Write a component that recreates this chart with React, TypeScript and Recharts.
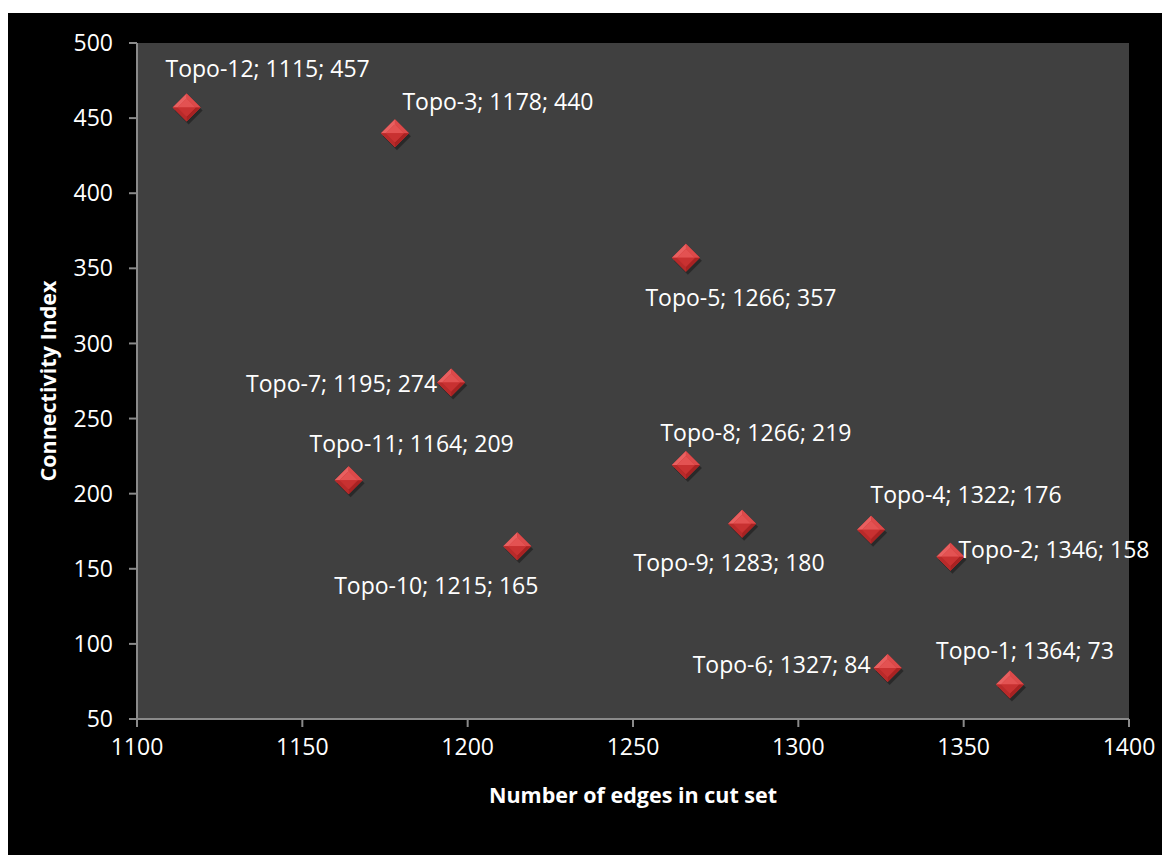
import { CartesianGrid, Scatter, ScatterChart, XAxis, YAxis } from "recharts";

const topoNames = [
  "Topo-1", "Topo-2", "Topo-3", "Topo-4", "Topo-5", "Topo-6",
  "Topo-7", "Topo-8", "Topo-9", "Topo-10", "Topo-11", "Topo-12",
];
const edgesInCutSet = [1364, 1346, 1178, 1322, 1266, 1327, 1195, 1266, 1283, 1215, 1164, 1115];
const connectivityIndex = [73, 158, 440, 176, 357, 84, 274, 219, 180, 165, 209, 457];

const xTicks = [1100, 1150, 1200, 1250, 1300, 1350, 1400];
const yTicks = [50, 100, 150, 200, 250, 300, 350, 400, 450, 500];

// where each data label sits relative to its marker (Excel labels were hand-moved)
const labelNudge: { anchor: "start" | "middle" | "end"; dx: number; dy: number }[] = [
  { anchor: "middle", dx: 15, dy: -34 },
  { anchor: "start", dx: 8, dy: -8 },
  { anchor: "middle", dx: 103, dy: -32 },
  { anchor: "middle", dx: 95, dy: -36 },
  { anchor: "middle", dx: 55, dy: 39 },
  { anchor: "end", dx: -17, dy: -4 },
  { anchor: "end", dx: -14, dy: 0 },
  { anchor: "middle", dx: 70, dy: -33 },
  { anchor: "middle", dx: -13, dy: 38 },
  { anchor: "middle", dx: -81, dy: 39 },
  { anchor: "middle", dx: 63, dy: -37 },
  { anchor: "middle", dx: 81, dy: -40 },
];

const points = topoNames.map((name, i) => ({
  name,
  edges: edgesInCutSet[i],
  index: connectivityIndex[i],
  idx: i,
}));

const font = "'Open Sans', sans-serif";
const textSize = 23;

function Diamond(props: any) {
  const { cx, cy, payload } = props;
  if (cx == null || cy == null) return null;
  const r = 14;
  const i = 5;
  const nudge = labelNudge[payload.idx];
  const T = `${cx},${cy - r}`;
  const R = `${cx + r},${cy}`;
  const B = `${cx},${cy + r}`;
  const L = `${cx - r},${cy}`;
  const it = `${cx},${cy - r + i}`;
  const ir = `${cx + r - i},${cy}`;
  const ib = `${cx},${cy + r - i}`;
  const il = `${cx - r + i},${cy}`;
  return (
    <g>
      <polygon
        points={`${cx + 2},${cy - r + 3} ${cx + r + 2},${cy + 3} ${cx + 2},${cy + r + 3} ${cx - r + 2},${cy + 3}`}
        fill="#000"
        opacity={0.35}
      />
      <polygon points={`${T} ${R} ${B} ${L}`} fill="#c93434" />
      <polygon points={`${T} ${it} ${il} ${L}`} fill="#e86060" />
      <polygon points={`${T} ${R} ${ir} ${it}`} fill="#dc4a4a" />
      <polygon points={`${L} ${il} ${ib} ${B}`} fill="#b82a2a" />
      <polygon points={`${R} ${B} ${ib} ${ir}`} fill="#a82222" />
      <polygon points={`${it} ${ir} ${cx},${cy} ${il}`} fill="#e35252" />
      <polygon points={`${il} ${cx},${cy} ${ir} ${ib}`} fill="#c83131" />
      <text
        x={cx + nudge.dx}
        y={cy + nudge.dy}
        textAnchor={nudge.anchor}
        dominantBaseline="central"
        fill="#ffffff"
        fontFamily={font}
        fontSize={textSize}
      >
        {`${payload.name}; ${payload.edges}; ${payload.index}`}
      </text>
    </g>
  );
}

export default function App() {
  return (
    <div style={{ width: 1162, height: 842, marginTop: 5, background: "#000000" }}>
      <ScatterChart
        width={1162}
        height={842}
        margin={{ top: 30, right: 41, bottom: 76, left: 69 }}
      >
        <CartesianGrid horizontal={false} vertical={false} fill="#404040" stroke="none" />
        <XAxis
          type="number"
          dataKey="edges"
          domain={[1100, 1400]}
          ticks={xTicks}
          height={60}
          tickSize={8}
          tickMargin={12}
          stroke="#8a8a8a"
          strokeWidth={2}
          tick={{ fill: "#ffffff", fontSize: textSize, fontFamily: font }}
          label={{
            value: "Number of edges in cut set",
            position: "insideBottom",
            offset: -24,
            fill: "#ffffff",
            fontSize: 21.5,
            fontWeight: 700,
            fontFamily: font,
          }}
        />
        <YAxis
          type="number"
          dataKey="index"
          domain={[50, 500]}
          ticks={yTicks}
          width={60}
          tickSize={8}
          tickMargin={16}
          stroke="#8a8a8a"
          strokeWidth={2}
          tick={{ fill: "#ffffff", fontSize: textSize, fontFamily: font }}
          label={{
            value: "Connectivity Index",
            angle: -90,
            position: "insideLeft",
            offset: -29,
            style: { textAnchor: "middle" },
            fill: "#ffffff",
            fontSize: 21.5,
            fontWeight: 700,
            fontFamily: font,
          }}
        />
        <Scatter data={points} shape={Diamond} isAnimationActive={false} />
      </ScatterChart>
    </div>
  );
}
